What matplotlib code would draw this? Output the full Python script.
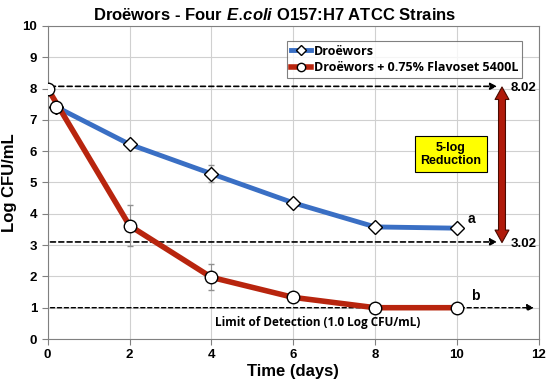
import numpy as np
import matplotlib
matplotlib.use("Agg")
import matplotlib.pyplot as plt
from matplotlib.patches import FancyArrowPatch
from matplotlib.lines import Line2D

# data
days_blue = [0.2, 2, 4, 6, 8, 10]
log_blue = [7.42, 6.22, 5.28, 4.35, 3.58, 3.54]
err_blue = [0, 0.05, 0.27, 0.05, 0.05, 0.05]

days_red = [0, 2, 4, 6, 8, 10]
log_red = [8.0, 3.62, 1.97, 1.33, 1.0, 1.0]
err_red = [0, 0.65, 0.42, 0.05, 0.05, 0.05]

label_blue = "Droëwors"
label_red = "Droëwors + 0.75% Flavoset 5400L"
top_label, bottom_label = "8.02", "3.02"
top_y, bottom_y, lod_y = 8.07, 3.1, 1.0

plt.rcParams['font.family'] = ['Liberation Sans', 'DejaVu Sans']
plt.rcParams['mathtext.fontset'] = 'custom'
plt.rcParams['mathtext.it'] = 'Liberation Sans:bold:italic'
fig = plt.figure(figsize=(5.5, 3.87), dpi=100)
ax = fig.add_axes([0.0867, 0.124, 0.893, 0.809])

ax.set_xlim(0, 12)
ax.set_ylim(0, 10)
ax.set_xticks(range(0, 13, 2))
ax.set_yticks(range(0, 11))
ax.grid(True, color='#d0d0d0', lw=0.8)
ax.set_axisbelow(True)
for s in ax.spines.values():
    s.set_color('#808080')
ax.tick_params(colors='#808080', labelcolor='black', length=4)
for lab in ax.get_xticklabels() + ax.get_yticklabels():
    lab.set_fontweight('bold')
    lab.set_fontsize(9.5)

# dashed reference lines
for yy, xend, w in [(top_y, 11.05, 1.2), (bottom_y, 11.05, 1.2), (lod_y, 11.95, 1.0)]:
    ax.annotate('', xy=(xend, yy), xytext=(0, yy),
                arrowprops=dict(arrowstyle='-|>', ls=(0, (3, 2)), lw=w, color='black'))

# series
ax.errorbar(days_blue, log_blue, yerr=err_blue, color='#3a6fc4', lw=3.5,
            ecolor='#909090', elinewidth=0.8, capsize=2, marker='D', ms=7,
            mfc='white', mec='black', mew=1.0, zorder=3)
ax.plot(days_blue[:1], log_blue[:1], 'o', ms=9, mfc='white', mec='black', mew=1.0, zorder=5)
ax.errorbar(days_red, log_red, yerr=err_red, color='#b8250e', lw=4,
            ecolor='#909090', elinewidth=0.8, capsize=2, marker='o', ms=9,
            mfc='white', mec='black', mew=1.0, zorder=4)

# double arrow for the 5-log reduction
mid = (top_y + bottom_y) / 2
for yend in (top_y - 0.02, bottom_y - 0.02):
    ax.add_patch(FancyArrowPatch((11.1, mid), (11.1, yend),
                                 arrowstyle='simple,head_length=0.9,head_width=1.0,tail_width=0.5',
                                 mutation_scale=10, fc='#b01a0a', ec='#4a0a00', lw=0.8,
                                 shrinkA=0, shrinkB=0, zorder=6))
ax.plot([11.1, 11.1], [mid - 0.5, mid + 0.5], color='#b01a0a', lw=4.3, solid_capstyle='butt', zorder=7)

ax.text(11.3, top_y - 0.05, top_label, fontsize=9.5, fontweight='bold', va='center', ha='left')
ax.text(11.3, bottom_y - 0.05, bottom_label, fontsize=9.5, fontweight='bold', va='center', ha='left')

ax.text(9.85, 5.9, "5-log\nReduction", fontsize=9, fontweight='bold', ha='center', va='center',
        linespacing=1.1,
        bbox=dict(boxstyle='square,pad=0.45', fc='#ffff00', ec='black', lw=0.8))

ax.text(10.35, 3.83, "a", fontsize=10, fontweight='bold', ha='center', va='center')
ax.text(10.45, 1.38, "b", fontsize=10, fontweight='bold', ha='center', va='center')
ax.text(6.6, 0.52, "Limit of Detection (1.0 Log CFU/mL)", fontsize=8.5, fontweight='bold',
        ha='center', va='center', family=['Open Sans', 'DejaVu Sans'])

ax.set_xlabel("Time (days)", fontsize=12, fontweight='bold', labelpad=2)
ax.set_ylabel("Log CFU/mL", fontsize=12, fontweight='bold', labelpad=4)
fig.text(0.5, 0.962, r"Droëwors - Four $\mathit{E.}\!\mathit{coli}$ O157:H7 ATCC Strains", ha='center', va='center',
         fontsize=12, fontweight='bold')

handles = [Line2D([], [], color='#3a6fc4', lw=3.5, marker='D', ms=5, mfc='white', mec='black', mew=1.0),
           Line2D([], [], color='#b8250e', lw=4, marker='o', ms=6, mfc='white', mec='black', mew=1.0)]
leg = ax.legend(handles, [label_blue, label_red], loc='upper right', bbox_to_anchor=(0.978, 0.972),
                frameon=True, fancybox=False, edgecolor='#606060', handlelength=1.6, handletextpad=0.2,
                borderpad=0.3, labelspacing=0.3,
                prop=dict(family=['Open Sans', 'DejaVu Sans'], weight='bold', size=9))
leg.get_frame().set_linewidth(0.8)

fig.savefig("out.png", dpi=100)
